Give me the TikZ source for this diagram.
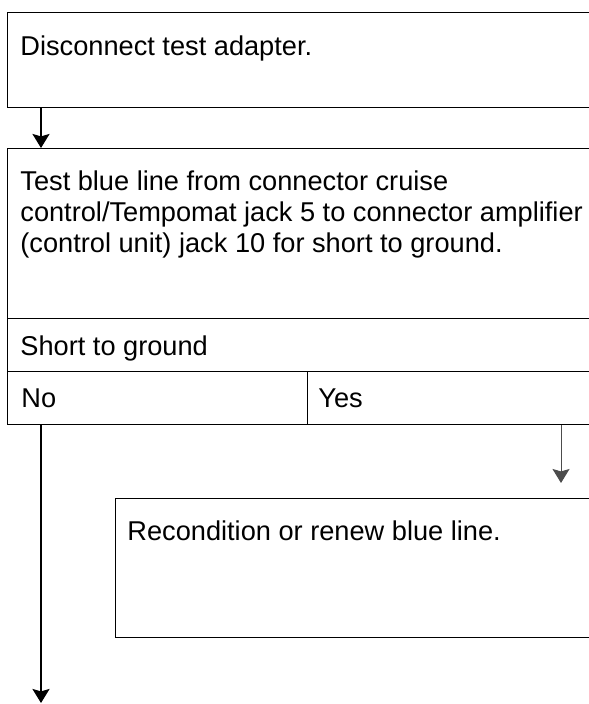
\documentclass[tikz,border=0pt]{standalone}
\usepackage{fontspec}
\setmainfont{Liberation Sans}
\usetikzlibrary{positioning}
\usetikzlibrary{arrows.meta}
\tikzset{box/.style={draw,rectangle,line width=0.7pt,anchor=north west,inner sep=0pt},
	txt/.style={inner sep=0pt,align=left,font=\fontsize{13.6}{15.6}\selectfont},
	flow/.style={-{Stealth[length=7pt,width=8.5pt,inset=1.2pt]},line width=1pt}}

\begin{document}
\begin{tikzpicture}[x=0.5pt,y=-0.5pt]
	\useasboundingbox (0,0) rectangle (588,704);
	% boxes
	\node[box, minimum width=294.5pt, minimum height=47.5pt] (disc) at (7,12) {};
	\node[box, minimum width=294.5pt, minimum height=85pt] (test) at (7,148) {};
	\node[box, minimum width=294.5pt, minimum height=26.5pt] (short) at (7,318) {};
	\node[box, minimum width=150pt, minimum height=26.5pt] (no) at (7,371) {};
	\node[box, minimum width=144.5pt, minimum height=26.5pt] (yes) at (307,371) {};
	\node[box, minimum width=240.5pt, minimum height=69.5pt] (reco) at (115,498) {};

	% texts
	\node[txt] (disctxt) [below right = 11.5pt and 6.5pt of disc.north west] {Disconnect test adapter.};
	\node[txt] (testtxt) [below right = 11pt and 6.5pt of test.north west] {Test blue line from connector cruise\\control/Tempomat jack 5 to connector amplifier\\(control unit) jack 10 for short to ground.};
	\node[txt] (shorttxt) [below right = 8.5pt and 6.5pt of short.north west] {Short to ground};
	\node[txt] (notxt) [below right = 8.5pt and 7pt of no.north west] {No};
	\node[txt] (yestxt) [below right = 8.5pt and 5.5pt of yes.north west] {Yes};
	\node[txt] (recotxt) [below right = 11pt and 6pt of reco.north west] {Recondition or renew blue line.};

	% connectors
	\coordinate (noend) at (41,703);
	\coordinate (yesend) at (561,483);
	\draw[flow] (disc.south -| noend) -- (test.north -| noend);
	\draw[flow] (no.south -| noend) -- (noend);
	\draw[flow, line width=0.5pt, gray!60!black] (yes.south -| yesend) -- (yesend);
\end{tikzpicture}
\end{document}
